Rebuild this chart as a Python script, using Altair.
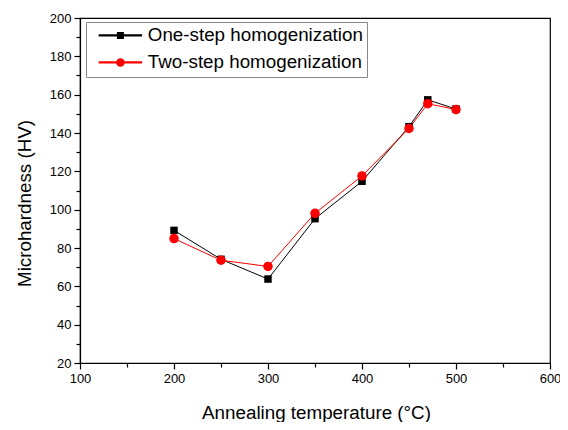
import altair as alt
import pandas as pd

temps = [200, 250, 300, 350, 400, 450, 470, 500]
one_step = [89.2, 74.1, 63.8, 95.3, 114.8, 143.3, 157.3, 152.5]
two_step = [84.9, 73.6, 70.4, 98.1, 117.6, 142.4, 155.3, 152.2]
series_names = ["One-step homogenization", "Two-step homogenization"]
colors = ["#000000", "#ff0000"]

df = pd.DataFrame({
    "temp": temps * 2,
    "hv": one_step + two_step,
    "series": [series_names[0]] * len(temps) + [series_names[1]] * len(temps),
})

FONT = "Liberation Sans"
cscale = alt.Scale(domain=series_names, range=colors)

x_values = list(range(100, 601, 50))
y_values = list(range(20, 201, 10))

x_enc = alt.X("temp:Q", scale=alt.Scale(domain=[100, 600], nice=False, zero=False),
              axis=alt.Axis(values=x_values,
                            labelExpr="datum.value % 100 === 0 ? datum.label : ''",
                            labelOverlap=False, labelFlush=False, labelBound=False,
                            tickSize={"condition": {"test": "datum.value % 100 === 0", "value": 6}, "value": 4},
                            title="Annealing temperature (°C)",
                            titleX=236, titleY=55, titleBaseline="alphabetic", titleAlign="center"))
y_enc = alt.Y("hv:Q", scale=alt.Scale(domain=[20, 200], nice=False, zero=False),
              axis=alt.Axis(values=y_values,
                            labelExpr="datum.value % 20 === 0 ? datum.label : ''",
                            labelOverlap=False, labelFlush=False, labelBound=False,
                            tickSize={"condition": {"test": "datum.value % 20 === 0", "value": 6}, "value": 4},
                            title="Microhardness (HV)",
                            titleAngle=270, titleX=-50, titleY=185,
                            titleBaseline="alphabetic", titleAlign="center"))

line = alt.Chart(df).mark_line(strokeWidth=1).encode(
    x=x_enc, y=y_enc,
    color=alt.Color("series:N", scale=cscale, legend=None),
    detail="series:N",
)

pts_one = alt.Chart(df).transform_filter(
    alt.datum.series == series_names[0]
).mark_point(shape="square", filled=True, size=56, opacity=1).encode(
    x=x_enc, y=y_enc,
    color=alt.Color("series:N", scale=cscale, legend=None),
)
pts_two = alt.Chart(df).transform_filter(
    alt.datum.series == series_names[1]
).mark_point(shape="circle", filled=True, size=90, opacity=1).encode(
    x=x_enc, y=y_enc,
    color=alt.Color("series:N", scale=cscale, legend=None),
)

sq_path = "M-4.2,-0.09H4.2V0.09H-4.2ZM-0.55,-0.55H0.55V0.55H-0.55Z"
ci_path = "M-4.2,-0.09H4.2V0.09H-4.2ZM0.7,0A0.7,0.7,0,1,1,-0.7,0A0.7,0.7,0,1,1,0.7,0Z"

leg = alt.Legend(title=None, orient="none", legendX=6, legendY=4,
                 symbolSize=100, symbolOpacity=1, symbolOffset=21,
                 labelFontSize=18.8, labelFont=FONT, labelColor="#000000",
                 labelOffset=18, rowPadding=7, padding=4,
                 strokeColor="#888888", fillColor="white", labelLimit=400)

legend_layer = alt.Chart(df).transform_filter(
    alt.datum.temp < 0
).mark_point(filled=True, size=100, opacity=1).encode(
    x=x_enc, y=y_enc,
    fill=alt.Fill("series:N", scale=alt.Scale(domain=series_names, range=colors), legend=leg),
    shape=alt.Shape("series:N", scale=alt.Scale(domain=series_names, range=[sq_path, ci_path]), legend=leg),
)

chart = alt.layer(legend_layer, line, pts_one, pts_two).properties(
    width=470, height=345,
    autosize=alt.AutoSizeParams(type="none"),
    padding={"left": 72, "top": 10, "right": 10, "bottom": 59},
).configure_view(
    stroke="#000000", strokeWidth=1.2
).configure_axis(
    domainColor="#000000", domainWidth=1.2, tickColor="#000000", tickWidth=1.2,
    labelFont=FONT, labelFontSize=13, labelColor="#000000", labelPadding=3,
    labelOverlap=False,
    titleFont=FONT, titleFontSize=18.8, titleFontWeight="normal", titleColor="#000000",
    grid=False,
)

chart.save("out.html", embed_options={"renderer": "svg", "actions": False})
